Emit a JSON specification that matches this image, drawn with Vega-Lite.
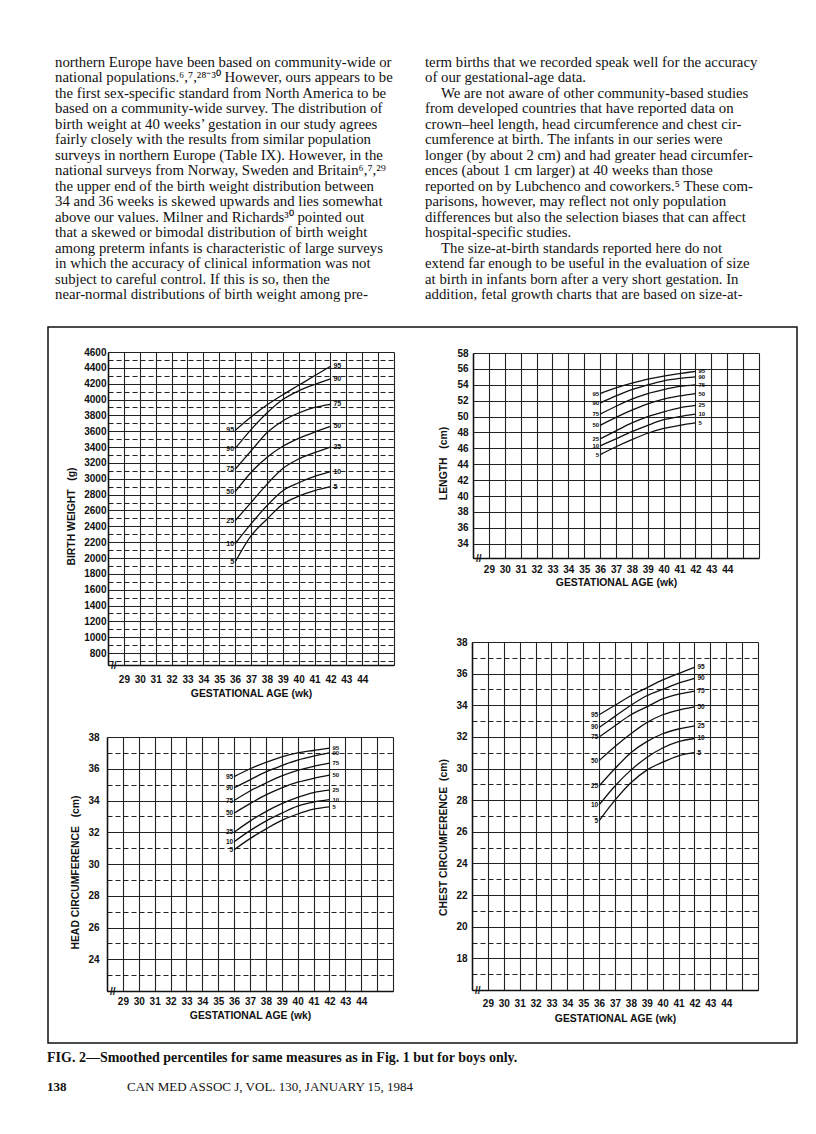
{
  "$schema": "https://vega.github.io/schema/vega-lite/v6.json",
  "width": 816,
  "height": 1134,
  "autosize": {"type": "none"},
  "padding": 0,
  "background": "white",
  "config": {
    "view": {"stroke": null},
    "axis": {
      "labelFont": "Liberation Sans", "labelFontWeight": "bold", "labelFontSize": 10, "labelColor": "#111",
      "titleFont": "Liberation Sans", "titleFontWeight": "bold", "titleFontSize": 10.4, "titleColor": "#111",
      "ticks": false, "domainColor": "#111", "domainWidth": 1.5,
      "gridColor": "#222", "gridWidth": 1.1, "gridOpacity": 1,
      "labelOverlap": false, "labelFlush": false, "labelBound": false
    },
    "axisX": {"labelFontSize": 10}
  },
  "datasets": {
    "box": [{"lo": 0, "hi": 1}],
    "para": [
      {"col": "left", "line": 1, "indent": false, "text": "northern Europe have been based on community-wide or"},
      {"col": "left", "line": 2, "indent": false, "text": "national populations.⁶,⁷,²⁸⁻³⁰ However, ours appears to be"},
      {"col": "left", "line": 3, "indent": false, "text": "the first sex-specific standard from North America to be"},
      {"col": "left", "line": 4, "indent": false, "text": "based on a community-wide survey. The distribution of"},
      {"col": "left", "line": 5, "indent": false, "text": "birth weight at 40 weeks’ gestation in our study agrees"},
      {"col": "left", "line": 6, "indent": false, "text": "fairly closely with the results from similar population"},
      {"col": "left", "line": 7, "indent": false, "text": "surveys in northern Europe (Table IX). However, in the"},
      {"col": "left", "line": 8, "indent": false, "text": "national surveys from Norway, Sweden and Britain⁶,⁷,²⁹"},
      {"col": "left", "line": 9, "indent": false, "text": "the upper end of the birth weight distribution between"},
      {"col": "left", "line": 10, "indent": false, "text": "34 and 36 weeks is skewed upwards and lies somewhat"},
      {"col": "left", "line": 11, "indent": false, "text": "above our values. Milner and Richards³⁰ pointed out"},
      {"col": "left", "line": 12, "indent": false, "text": "that a skewed or bimodal distribution of birth weight"},
      {"col": "left", "line": 13, "indent": false, "text": "among preterm infants is characteristic of large surveys"},
      {"col": "left", "line": 14, "indent": false, "text": "in which the accuracy of clinical information was not"},
      {"col": "left", "line": 15, "indent": false, "text": "subject to careful control. If this is so, then the"},
      {"col": "left", "line": 16, "indent": false, "text": "near-normal distributions of birth weight among pre-"},
      {"col": "right", "line": 1, "indent": false, "text": "term births that we recorded speak well for the accuracy"},
      {"col": "right", "line": 2, "indent": false, "text": "of our gestational-age data."},
      {"col": "right", "line": 3, "indent": true, "text": "We are not aware of other community-based studies"},
      {"col": "right", "line": 4, "indent": false, "text": "from developed countries that have reported data on"},
      {"col": "right", "line": 5, "indent": false, "text": "crown–heel length, head circumference and chest cir-"},
      {"col": "right", "line": 6, "indent": false, "text": "cumference at birth. The infants in our series were"},
      {"col": "right", "line": 7, "indent": false, "text": "longer (by about 2 cm) and had greater head circumfer-"},
      {"col": "right", "line": 8, "indent": false, "text": "ences (about 1 cm larger) at 40 weeks than those"},
      {"col": "right", "line": 9, "indent": false, "text": "reported on by Lubchenco and coworkers.⁵ These com-"},
      {"col": "right", "line": 10, "indent": false, "text": "parisons, however, may reflect not only population"},
      {"col": "right", "line": 11, "indent": false, "text": "differences but also the selection biases that can affect"},
      {"col": "right", "line": 12, "indent": false, "text": "hospital-specific studies."},
      {"col": "right", "line": 13, "indent": true, "text": "The size-at-birth standards reported here do not"},
      {"col": "right", "line": 14, "indent": false, "text": "extend far enough to be useful in the evaluation of size"},
      {"col": "right", "line": 15, "indent": false, "text": "at birth in infants born after a very short gestation. In"},
      {"col": "right", "line": 16, "indent": false, "text": "addition, fetal growth charts that are based on size-at-"}
    ],
    "foot": [
      {"row": "caption", "slot": "a", "text": "FIG. 2—Smoothed percentiles for same measures as in Fig. 1 but for boys only."},
      {"row": "footer", "slot": "a", "text": "138"},
      {"row": "footer", "slot": "b", "text": "CAN MED ASSOC J, VOL. 130, JANUARY 15, 1984"}
    ],
    "bw": [
      {"p": 5, "w": 36, "v": 1950}, {"p": 5, "w": 37, "v": 2280}, {"p": 5, "w": 38, "v": 2490}, {"p": 5, "w": 39, "v": 2680}, {"p": 5, "w": 40, "v": 2780}, {"p": 5, "w": 41, "v": 2850}, {"p": 5, "w": 42, "v": 2900},
      {"p": 10, "w": 36, "v": 2180}, {"p": 10, "w": 37, "v": 2430}, {"p": 10, "w": 38, "v": 2660}, {"p": 10, "w": 39, "v": 2850}, {"p": 10, "w": 40, "v": 2950}, {"p": 10, "w": 41, "v": 3030}, {"p": 10, "w": 42, "v": 3090},
      {"p": 25, "w": 36, "v": 2470}, {"p": 25, "w": 37, "v": 2700}, {"p": 25, "w": 38, "v": 2930}, {"p": 25, "w": 39, "v": 3130}, {"p": 25, "w": 40, "v": 3250}, {"p": 25, "w": 41, "v": 3330}, {"p": 25, "w": 42, "v": 3400},
      {"p": 50, "w": 36, "v": 2835}, {"p": 50, "w": 37, "v": 3080}, {"p": 50, "w": 38, "v": 3270}, {"p": 50, "w": 39, "v": 3410}, {"p": 50, "w": 40, "v": 3510}, {"p": 50, "w": 41, "v": 3590}, {"p": 50, "w": 42, "v": 3660},
      {"p": 75, "w": 36, "v": 3120}, {"p": 75, "w": 37, "v": 3350}, {"p": 75, "w": 38, "v": 3580}, {"p": 75, "w": 39, "v": 3730}, {"p": 75, "w": 40, "v": 3830}, {"p": 75, "w": 41, "v": 3900}, {"p": 75, "w": 42, "v": 3940},
      {"p": 90, "w": 36, "v": 3380}, {"p": 90, "w": 37, "v": 3620}, {"p": 90, "w": 38, "v": 3830}, {"p": 90, "w": 39, "v": 4000}, {"p": 90, "w": 40, "v": 4110}, {"p": 90, "w": 41, "v": 4190}, {"p": 90, "w": 42, "v": 4260},
      {"p": 95, "w": 36, "v": 3610}, {"p": 95, "w": 37, "v": 3780}, {"p": 95, "w": 38, "v": 3930}, {"p": 95, "w": 39, "v": 4060}, {"p": 95, "w": 40, "v": 4180}, {"p": 95, "w": 41, "v": 4300}, {"p": 95, "w": 42, "v": 4420}
    ],
    "len": [
      {"p": 5, "w": 36, "v": 45.2}, {"p": 5, "w": 37, "v": 46.2}, {"p": 5, "w": 38, "v": 47.1}, {"p": 5, "w": 39, "v": 47.9}, {"p": 5, "w": 40, "v": 48.5}, {"p": 5, "w": 41, "v": 48.9}, {"p": 5, "w": 42, "v": 49.2},
      {"p": 10, "w": 36, "v": 46.3}, {"p": 10, "w": 37, "v": 47.2}, {"p": 10, "w": 38, "v": 48.1}, {"p": 10, "w": 39, "v": 48.9}, {"p": 10, "w": 40, "v": 49.6}, {"p": 10, "w": 41, "v": 50.0}, {"p": 10, "w": 42, "v": 50.3},
      {"p": 25, "w": 36, "v": 47.2}, {"p": 25, "w": 37, "v": 48.2}, {"p": 25, "w": 38, "v": 49.2}, {"p": 25, "w": 39, "v": 50.0}, {"p": 25, "w": 40, "v": 50.6}, {"p": 25, "w": 41, "v": 51.1}, {"p": 25, "w": 42, "v": 51.4},
      {"p": 50, "w": 36, "v": 48.9}, {"p": 50, "w": 37, "v": 49.9}, {"p": 50, "w": 38, "v": 50.8}, {"p": 50, "w": 39, "v": 51.6}, {"p": 50, "w": 40, "v": 52.2}, {"p": 50, "w": 41, "v": 52.6}, {"p": 50, "w": 42, "v": 52.9},
      {"p": 75, "w": 36, "v": 50.3}, {"p": 75, "w": 37, "v": 51.3}, {"p": 75, "w": 38, "v": 52.2}, {"p": 75, "w": 39, "v": 52.9}, {"p": 75, "w": 40, "v": 53.4}, {"p": 75, "w": 41, "v": 53.8}, {"p": 75, "w": 42, "v": 54.0},
      {"p": 90, "w": 36, "v": 51.7}, {"p": 90, "w": 37, "v": 52.6}, {"p": 90, "w": 38, "v": 53.4}, {"p": 90, "w": 39, "v": 54.0}, {"p": 90, "w": 40, "v": 54.5}, {"p": 90, "w": 41, "v": 54.8}, {"p": 90, "w": 42, "v": 55.0},
      {"p": 95, "w": 36, "v": 52.9}, {"p": 95, "w": 37, "v": 53.6}, {"p": 95, "w": 38, "v": 54.2}, {"p": 95, "w": 39, "v": 54.7}, {"p": 95, "w": 40, "v": 55.1}, {"p": 95, "w": 41, "v": 55.4}, {"p": 95, "w": 42, "v": 55.7}
    ],
    "head": [
      {"p": 5, "w": 36, "v": 30.9}, {"p": 5, "w": 37, "v": 31.6}, {"p": 5, "w": 38, "v": 32.2}, {"p": 5, "w": 39, "v": 32.75}, {"p": 5, "w": 40, "v": 33.15}, {"p": 5, "w": 41, "v": 33.45}, {"p": 5, "w": 42, "v": 33.6},
      {"p": 10, "w": 36, "v": 31.4}, {"p": 10, "w": 37, "v": 32.1}, {"p": 10, "w": 38, "v": 32.7}, {"p": 10, "w": 39, "v": 33.2}, {"p": 10, "w": 40, "v": 33.65}, {"p": 10, "w": 41, "v": 33.9}, {"p": 10, "w": 42, "v": 34.05},
      {"p": 25, "w": 36, "v": 32.0}, {"p": 25, "w": 37, "v": 32.7}, {"p": 25, "w": 38, "v": 33.3}, {"p": 25, "w": 39, "v": 33.8}, {"p": 25, "w": 40, "v": 34.2}, {"p": 25, "w": 41, "v": 34.5}, {"p": 25, "w": 42, "v": 34.65},
      {"p": 50, "w": 36, "v": 33.2}, {"p": 50, "w": 37, "v": 33.8}, {"p": 50, "w": 38, "v": 34.35}, {"p": 50, "w": 39, "v": 34.8}, {"p": 50, "w": 40, "v": 35.15}, {"p": 50, "w": 41, "v": 35.4}, {"p": 50, "w": 42, "v": 35.6},
      {"p": 75, "w": 36, "v": 34.0}, {"p": 75, "w": 37, "v": 34.6}, {"p": 75, "w": 38, "v": 35.1}, {"p": 75, "w": 39, "v": 35.55}, {"p": 75, "w": 40, "v": 35.9}, {"p": 75, "w": 41, "v": 36.15}, {"p": 75, "w": 42, "v": 36.35},
      {"p": 90, "w": 36, "v": 34.8}, {"p": 90, "w": 37, "v": 35.3}, {"p": 90, "w": 38, "v": 35.8}, {"p": 90, "w": 39, "v": 36.2}, {"p": 90, "w": 40, "v": 36.55}, {"p": 90, "w": 41, "v": 36.8}, {"p": 90, "w": 42, "v": 37.0},
      {"p": 95, "w": 36, "v": 35.5}, {"p": 95, "w": 37, "v": 36.0}, {"p": 95, "w": 38, "v": 36.4}, {"p": 95, "w": 39, "v": 36.75}, {"p": 95, "w": 40, "v": 37.0}, {"p": 95, "w": 41, "v": 37.15}, {"p": 95, "w": 42, "v": 37.3}
    ],
    "chest": [
      {"p": 5, "w": 36, "v": 26.7}, {"p": 5, "w": 37, "v": 28.0}, {"p": 5, "w": 38, "v": 29.1}, {"p": 5, "w": 39, "v": 29.9}, {"p": 5, "w": 40, "v": 30.4}, {"p": 5, "w": 41, "v": 30.8}, {"p": 5, "w": 42, "v": 31.0},
      {"p": 10, "w": 36, "v": 27.7}, {"p": 10, "w": 37, "v": 28.9}, {"p": 10, "w": 38, "v": 29.9}, {"p": 10, "w": 39, "v": 30.7}, {"p": 10, "w": 40, "v": 31.3}, {"p": 10, "w": 41, "v": 31.7}, {"p": 10, "w": 42, "v": 31.9},
      {"p": 25, "w": 36, "v": 28.9}, {"p": 25, "w": 37, "v": 30.0}, {"p": 25, "w": 38, "v": 31.0}, {"p": 25, "w": 39, "v": 31.7}, {"p": 25, "w": 40, "v": 32.2}, {"p": 25, "w": 41, "v": 32.5}, {"p": 25, "w": 42, "v": 32.7},
      {"p": 50, "w": 36, "v": 30.5}, {"p": 50, "w": 37, "v": 31.4}, {"p": 50, "w": 38, "v": 32.2}, {"p": 50, "w": 39, "v": 32.9}, {"p": 50, "w": 40, "v": 33.4}, {"p": 50, "w": 41, "v": 33.7}, {"p": 50, "w": 42, "v": 33.9},
      {"p": 75, "w": 36, "v": 32.0}, {"p": 75, "w": 37, "v": 32.7}, {"p": 75, "w": 38, "v": 33.4}, {"p": 75, "w": 39, "v": 33.9}, {"p": 75, "w": 40, "v": 34.4}, {"p": 75, "w": 41, "v": 34.7}, {"p": 75, "w": 42, "v": 34.9},
      {"p": 90, "w": 36, "v": 32.6}, {"p": 90, "w": 37, "v": 33.3}, {"p": 90, "w": 38, "v": 34.0}, {"p": 90, "w": 39, "v": 34.6}, {"p": 90, "w": 40, "v": 35.0}, {"p": 90, "w": 41, "v": 35.4}, {"p": 90, "w": 42, "v": 35.7},
      {"p": 95, "w": 36, "v": 33.4}, {"p": 95, "w": 37, "v": 34.0}, {"p": 95, "w": 38, "v": 34.6}, {"p": 95, "w": 39, "v": 35.1}, {"p": 95, "w": 40, "v": 35.6}, {"p": 95, "w": 41, "v": 36.0}, {"p": 95, "w": 42, "v": 36.4}
    ]
  },
  "resolve": {
    "scale": {"x": "independent", "y": "independent"},
    "axis": {"x": "independent", "y": "independent"}
  },
  "layer": [
    {
      "data": {"name": "box"},
      "mark": {"type": "rect", "filled": false, "stroke": "#111", "strokeWidth": 1.5},
      "encoding": {
        "x": {"field": "lo", "type": "quantitative", "scale": {"domain": [0, 1], "range": [48, 797]}, "axis": null},
        "x2": {"field": "hi"},
        "y": {"field": "lo", "type": "quantitative", "scale": {"domain": [0, 1], "range": [327, 1043]}, "axis": null},
        "y2": {"field": "hi"}
      }
    },
    {
      "data": {"name": "para"},
      "encoding": {
        "x": {"field": "col", "type": "ordinal", "scale": {"type": "point", "padding": 0, "domain": ["left", "right"], "range": [55, 425]}, "axis": null},
        "y": {"field": "line", "type": "quantitative", "scale": {"domain": [1, 16], "range": [63, 295]}, "axis": null},
        "text": {"field": "text", "type": "nominal"}
      },
      "layer": [
        {"transform": [{"filter": "!datum.indent"}], "mark": {"type": "text", "align": "left", "baseline": "middle", "font": "Liberation Serif", "fontSize": 14.8, "color": "#111"}},
        {"transform": [{"filter": "datum.indent"}], "mark": {"type": "text", "align": "left", "baseline": "middle", "dx": 16, "font": "Liberation Serif", "fontSize": 14.8, "color": "#111"}}
      ]
    },
    {
      "data": {"name": "foot"},
      "encoding": {
        "x": {"field": "slot", "type": "ordinal", "scale": {"type": "point", "padding": 0, "domain": ["a", "b"], "range": [47, 127]}, "axis": null},
        "y": {"field": "row", "type": "ordinal", "scale": {"type": "point", "padding": 0, "domain": ["caption", "footer"], "range": [1058, 1087]}, "axis": null},
        "text": {"field": "text", "type": "nominal"},
        "size": {"condition": {"test": "datum.row === 'caption'", "value": 14}, "value": 13}
      },
      "layer": [
        {"transform": [{"filter": "datum.slot === 'a'"}], "mark": {"type": "text", "align": "left", "baseline": "middle", "font": "Liberation Serif", "fontWeight": "bold", "color": "#111"}},
        {"transform": [{"filter": "datum.slot === 'b'"}], "mark": {"type": "text", "align": "left", "baseline": "middle", "font": "Liberation Serif", "color": "#111"}}
      ]
    },
    {
      "data": {"name": "bw"},
      "encoding": {
        "x": {"field": "w", "type": "quantitative", "scale": {"domain": [28, 46], "range": [108, 394], "nice": false, "zero": false}, "axis": null},
        "y": {"field": "v", "type": "quantitative", "scale": {"domain": [650, 4600], "range": [665, 352], "nice": false, "zero": false},
          "axis": {"orient": "left", "offset": -108, "grid": true, "format": "d",
            "values": [650,700,800,900,1000,1100,1200,1300,1400,1500,1600,1700,1800,1900,2000,2100,2200,2300,2400,2500,2600,2700,2800,2900,3000,3100,3200,3300,3400,3500,3600,3700,3800,3900,4000,4100,4200,4300,4400,4500,4600],
            "labelExpr": "datum.value === 650 ? '//' : (datum.value % 200 === 0 ? datum.label : '')",
            "labelPadding": {"condition": {"test": "datum.value === 650", "value": -8}, "value": 2},
            "gridDash": {"condition": {"test": "datum.value % 200 === 0", "value": [1, 0]}, "value": [5, 3]},
            "title": "BIRTH WEIGHT\u00a0\u00a0\u00a0(g)", "titleX": -37, "titleY": 516, "titleBaseline": "middle"}}
      },
      "layer": [
        {"transform": [{"filter": "datum.w === 36"}],
          "mark": {"type": "text", "align": "right", "baseline": "middle", "dx": -1, "font": "Liberation Sans", "fontSize": 7, "fontWeight": "bold", "color": "#111"},
          "encoding": {
            "text": {"field": "p", "type": "nominal"},
            "x": {"field": "w", "type": "quantitative", "scale": {"domain": [28, 46], "range": [108, 394], "nice": false, "zero": false},
              "axis": {"orient": "bottom", "offset": -469, "grid": false, "values": [28,29,30,31,32,33,34,35,36,37,38,39,40,41,42,43,44,45,46],
                "labelExpr": "datum.value >= 29 && datum.value <= 44 ? datum.label : ''", "labelPadding": 9,
                "title": "GESTATIONAL AGE (wk)", "titleX": 251, "titleY": 28, "titleBaseline": "middle"}}
          }},
        {"transform": [{"filter": "datum.w === 42"}],
          "mark": {"type": "text", "align": "left", "baseline": "middle", "dx": 3, "font": "Liberation Sans", "fontSize": 7, "fontWeight": "bold", "color": "#111"},
          "encoding": {"text": {"field": "p", "type": "nominal"}}},
        {"mark": {"type": "line", "color": "#111", "strokeWidth": 1.3, "interpolate": "monotone"},
          "encoding": {
            "detail": {"field": "p", "type": "nominal"},
            "x": {"field": "w", "type": "quantitative", "scale": {"domain": [28, 46], "range": [108, 394], "nice": false, "zero": false},
              "axis": {"orient": "top", "offset": 0, "grid": true, "labels": false, "domain": false, "ticks": false, "title": null,
                "values": [28,29,30,31,32,33,34,35,36,37,38,39,40,41,42,43,44,45,46]}}
          }}
      ]
    },
    {
      "data": {"name": "len"},
      "encoding": {
        "x": {"field": "w", "type": "quantitative", "scale": {"domain": [28, 46], "range": [473, 759], "nice": false, "zero": false}, "axis": null},
        "y": {"field": "v", "type": "quantitative", "scale": {"domain": [32.2, 58], "range": [558, 353], "nice": false, "zero": false},
          "axis": {"orient": "left", "offset": -473, "grid": true, "format": "d",
            "values": [32.2,33,34,35,36,37,38,39,40,41,42,43,44,45,46,47,48,49,50,51,52,53,54,55,56,57,58],
            "labelExpr": "datum.value === 32.2 ? '//' : (datum.value % 2 === 0 ? datum.label : '')",
            "labelPadding": {"condition": {"test": "datum.value === 32.2", "value": -8}, "value": 5},
            "gridDash": {"condition": {"test": "datum.value % 2 === 0", "value": [1, 0]}, "value": [5, 3]},
            "title": "LENGTH\u00a0\u00a0\u00a0(cm)", "titleX": -30, "titleY": 463, "titleBaseline": "middle"}}
      },
      "layer": [
        {"transform": [{"filter": "datum.w === 36"}],
          "mark": {"type": "text", "align": "right", "baseline": "middle", "dx": -1, "font": "Liberation Sans", "fontSize": 6, "fontWeight": "bold", "color": "#111"},
          "encoding": {
            "text": {"field": "p", "type": "nominal"},
            "x": {"field": "w", "type": "quantitative", "scale": {"domain": [28, 46], "range": [473, 759], "nice": false, "zero": false},
              "axis": {"orient": "bottom", "offset": -576, "grid": false, "values": [28,29,30,31,32,33,34,35,36,37,38,39,40,41,42,43,44,45,46],
                "labelExpr": "datum.value >= 29 && datum.value <= 44 ? datum.label : ''", "labelPadding": 6,
                "title": "GESTATIONAL AGE (wk)", "titleX": 616, "titleY": 24, "titleBaseline": "middle"}}
          }},
        {"transform": [{"filter": "datum.w === 42"}],
          "mark": {"type": "text", "align": "left", "baseline": "middle", "dx": 3, "font": "Liberation Sans", "fontSize": 6, "fontWeight": "bold", "color": "#111"},
          "encoding": {"text": {"field": "p", "type": "nominal"}}},
        {"mark": {"type": "line", "color": "#111", "strokeWidth": 1.3, "interpolate": "monotone"},
          "encoding": {
            "detail": {"field": "p", "type": "nominal"},
            "x": {"field": "w", "type": "quantitative", "scale": {"domain": [28, 46], "range": [473, 759], "nice": false, "zero": false},
              "axis": {"orient": "top", "offset": 0, "grid": true, "labels": false, "domain": false, "ticks": false, "title": null,
                "values": [28,29,30,31,32,33,34,35,36,37,38,39,40,41,42,43,44,45,46]}}
          }}
      ]
    },
    {
      "data": {"name": "head"},
      "encoding": {
        "x": {"field": "w", "type": "quantitative", "scale": {"domain": [28, 46], "range": [107, 393], "nice": false, "zero": false}, "axis": null},
        "y": {"field": "v", "type": "quantitative", "scale": {"domain": [22, 38], "range": [991, 737], "nice": false, "zero": false},
          "axis": {"orient": "left", "offset": -107, "grid": true, "format": "d",
            "values": [22,23,24,25,26,27,28,29,30,31,32,33,34,35,36,37,38],
            "labelExpr": "datum.value === 22 ? '//' : (datum.value % 2 === 0 ? datum.label : '')",
            "labelPadding": {"condition": {"test": "datum.value === 22", "value": -8}, "value": 8},
            "gridDash": {"condition": {"test": "datum.value % 2 === 0", "value": [1, 0]}, "value": [5, 3]},
            "title": "HEAD CIRCUMFERENCE\u00a0\u00a0\u00a0(cm)", "titleX": -32, "titleY": 872, "titleBaseline": "middle"}}
      },
      "layer": [
        {"transform": [{"filter": "datum.w === 36"}],
          "mark": {"type": "text", "align": "right", "baseline": "middle", "dx": -1, "font": "Liberation Sans", "fontSize": 6.5, "fontWeight": "bold", "color": "#111"},
          "encoding": {
            "text": {"field": "p", "type": "nominal"},
            "x": {"field": "w", "type": "quantitative", "scale": {"domain": [28, 46], "range": [107, 393], "nice": false, "zero": false},
              "axis": {"orient": "bottom", "offset": -143, "grid": false, "values": [28,29,30,31,32,33,34,35,36,37,38,39,40,41,42,43,44,45,46],
                "labelExpr": "datum.value >= 29 && datum.value <= 44 ? datum.label : ''", "labelPadding": 5,
                "title": "GESTATIONAL AGE (wk)", "titleX": 250, "titleY": 24, "titleBaseline": "middle"}}
          }},
        {"transform": [{"filter": "datum.w === 42"}],
          "mark": {"type": "text", "align": "left", "baseline": "middle", "dx": 3, "font": "Liberation Sans", "fontSize": 6, "fontWeight": "bold", "color": "#111"},
          "encoding": {"text": {"field": "p", "type": "nominal"}}},
        {"mark": {"type": "line", "color": "#111", "strokeWidth": 1.3, "interpolate": "monotone"},
          "encoding": {
            "detail": {"field": "p", "type": "nominal"},
            "x": {"field": "w", "type": "quantitative", "scale": {"domain": [28, 46], "range": [107, 393], "nice": false, "zero": false},
              "axis": {"orient": "top", "offset": 0, "grid": true, "labels": false, "domain": false, "ticks": false, "title": null,
                "values": [28,29,30,31,32,33,34,35,36,37,38,39,40,41,42,43,44,45,46]}}
          }}
      ]
    },
    {
      "data": {"name": "chest"},
      "encoding": {
        "x": {"field": "w", "type": "quantitative", "scale": {"domain": [28, 46], "range": [472, 758], "nice": false, "zero": false}, "axis": null},
        "y": {"field": "v", "type": "quantitative", "scale": {"domain": [16, 38], "range": [990, 642], "nice": false, "zero": false},
          "axis": {"orient": "left", "offset": -472, "grid": true, "format": "d",
            "values": [16,17,18,19,20,21,22,23,24,25,26,27,28,29,30,31,32,33,34,35,36,37,38],
            "labelExpr": "datum.value === 16 ? '//' : (datum.value % 2 === 0 ? datum.label : '')",
            "labelPadding": {"condition": {"test": "datum.value === 16", "value": -8}, "value": 5},
            "gridDash": {"condition": {"test": "datum.value % 2 === 0", "value": [1, 0]}, "value": [5, 3]},
            "title": "CHEST CIRCUMFERENCE\u00a0\u00a0(cm)", "titleX": -29, "titleY": 837, "titleBaseline": "middle"}}
      },
      "layer": [
        {"transform": [{"filter": "datum.w === 36"}],
          "mark": {"type": "text", "align": "right", "baseline": "middle", "dx": -1, "font": "Liberation Sans", "fontSize": 6.5, "fontWeight": "bold", "color": "#111"},
          "encoding": {
            "text": {"field": "p", "type": "nominal"},
            "x": {"field": "w", "type": "quantitative", "scale": {"domain": [28, 46], "range": [472, 758], "nice": false, "zero": false},
              "axis": {"orient": "bottom", "offset": -144, "grid": false, "values": [28,29,30,31,32,33,34,35,36,37,38,39,40,41,42,43,44,45,46],
                "labelExpr": "datum.value >= 29 && datum.value <= 44 ? datum.label : ''", "labelPadding": 8,
                "title": "GESTATIONAL AGE (wk)", "titleX": 615, "titleY": 28, "titleBaseline": "middle"}}
          }},
        {"transform": [{"filter": "datum.w === 42"}],
          "mark": {"type": "text", "align": "left", "baseline": "middle", "dx": 3, "font": "Liberation Sans", "fontSize": 6.5, "fontWeight": "bold", "color": "#111"},
          "encoding": {"text": {"field": "p", "type": "nominal"}}},
        {"mark": {"type": "line", "color": "#111", "strokeWidth": 1.3, "interpolate": "monotone"},
          "encoding": {
            "detail": {"field": "p", "type": "nominal"},
            "x": {"field": "w", "type": "quantitative", "scale": {"domain": [28, 46], "range": [472, 758], "nice": false, "zero": false},
              "axis": {"orient": "top", "offset": 0, "grid": true, "labels": false, "domain": false, "ticks": false, "title": null,
                "values": [28,29,30,31,32,33,34,35,36,37,38,39,40,41,42,43,44,45,46]}}
          }}
      ]
    }
  ]
}
